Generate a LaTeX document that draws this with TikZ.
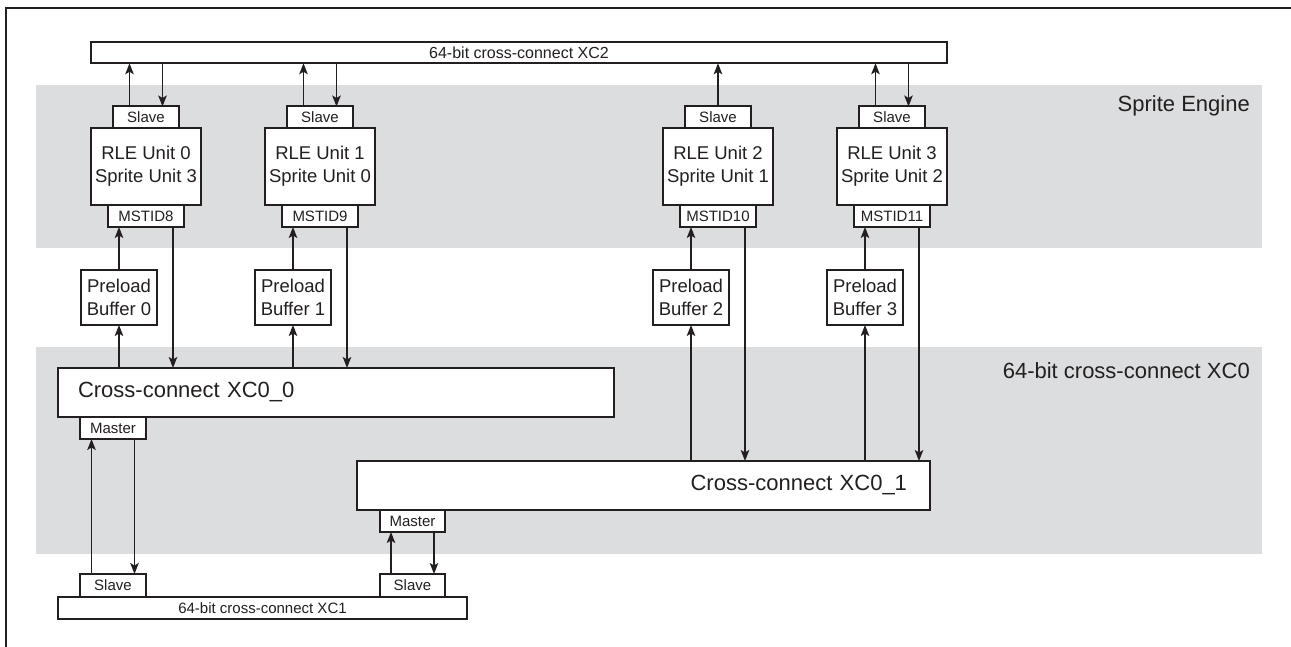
\documentclass[tikz,border=0pt]{standalone}
\usepackage{fontspec}
\setmainfont{Liberation Sans}
\usetikzlibrary{arrows.meta,positioning,calc}
\definecolor{bandG}{HTML}{DCDDDE}
\definecolor{inkK}{HTML}{231F20}

\begin{document}
\begin{tikzpicture}[x=1pt,y=-1pt,
  every node/.style={text=inkK},
  blk/.style={draw=inkK,fill=white,line width=2pt,inner sep=0pt,outer sep=0pt,align=center},
  port/.style={blk,minimum width=66pt,minimum height=21.5pt,font=\fontsize{15}{15}\selectfont},
  unit/.style={blk,minimum width=110pt,minimum height=77pt,font=\fontsize{18.5}{23}\selectfont},
  bus/.style={blk,minimum height=21.5pt,font=\fontsize{16}{16}\selectfont},
  xc/.style={blk,minimum height=49pt,font=\fontsize{22}{22}\selectfont},
  title/.style={anchor=base east,inner sep=0pt,font=\fontsize{22}{22}\selectfont},
  sig/.style={draw=inkK,line width=1.3pt,-{Stealth[length=11pt,width=8.5pt,inset=2.5pt]}}]
  \useasboundingbox (0,0) rectangle (1291,647);
  % background bands and frame
  \fill[bandG] (36,85) rectangle (1262,248);
  \fill[bandG] (36,347) rectangle (1262,554);
  \draw[inkK,line width=2.5pt] (6,647) -- (6,8) -- (1291,8);
  \node[title] (lblse) at (1250,112) {Sprite Engine};
  \node[title] (lblxc) at (1250,378) {64-bit cross-connect XC0};

  \node[bus,minimum width=856pt] (xc2) at (519,52.5) {64-bit cross-connect XC2};

  % RLE / sprite units with their ports and preload buffers
  \foreach \i/\x/\s/\m in {0/146/3/8,1/320/0/9,2/718/1/10,3/892/2/11}{
    \node[unit] (rle\i) at (\x,166.5) {RLE Unit \i\\Sprite Unit \s};
    \node[port,above=0pt of rle\i] (sl\i) {Slave};
    \node[port,below=0pt of rle\i,minimum width=76pt,minimum height=22pt] (ms\i) {MSTID\m};
    \node[unit,minimum width=76pt,minimum height=55pt] (pb\i) at (\x-27,297.5) {Preload\\Buffer \i};}

  \node[xc,minimum width=556pt,text width=516pt,align=left] (xc00) at (336,392.5) {Cross-connect XC0\_0};
  \node[xc,minimum width=573pt,text width=527pt,align=right] (xc01) at (643.5,485.5) {Cross-connect XC0\_1};
  \node[port,anchor=north west,minimum height=22pt] (ma0) at ([xshift=22pt]xc00.south west) {Master};
  \node[port,anchor=north west,minimum width=65pt,minimum height=22pt] (ma1) at ([xshift=23pt]xc01.south west) {Master};

  \node[bus,minimum width=409pt,minimum height=22pt,font=\fontsize{15}{15}\selectfont] (xc1) at (262.5,608) {64-bit cross-connect XC1};
  \node[port,anchor=south,minimum height=23pt] (sb0) at (ma0 |- xc1.north) {Slave};
  \node[port,anchor=south,minimum width=65pt,minimum height=23pt] (sb1) at (ma1 |- xc1.north) {Slave};

  % slave ports to XC2
  \foreach \i in {0,1,3}{
    \draw[sig] ([xshift=-16.5pt]sl\i.north) -- ([xshift=-16.5pt]sl\i.north |- xc2.south);
    \draw[sig] ([xshift=16.5pt]sl\i.north |- xc2.south) -- ([xshift=16.5pt]sl\i.north);}
  \draw[sig] (sl2.north) -- (sl2.north |- xc2.south);

  % preload buffers and masters to XC0
  \foreach \i/\c in {0/xc00,1/xc00,2/xc01,3/xc01}{
    \draw[sig] (pb\i.north) -- (pb\i.north |- ms\i.south);
    \draw[sig] (pb\i.south |- \c.north) -- (pb\i.south);
    \draw[sig] ([xshift=27pt]ms\i.south) -- ([xshift=27pt]ms\i.south |- \c.north);}

  % masters to XC1
  \foreach \i in {0,1}{
    \draw[sig] ([xshift=-21.5pt]sb\i.north) -- ([xshift=-21.5pt]ma\i.south);
    \draw[sig] ([xshift=21.5pt]ma\i.south) -- ([xshift=21.5pt]sb\i.north);}
\end{tikzpicture}
\end{document}
